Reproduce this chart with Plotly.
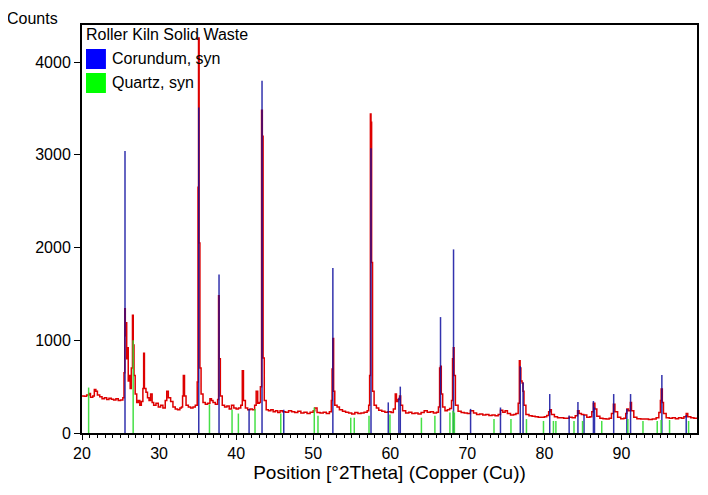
import plotly.graph_objects as go

two_theta = [20.0, 20.3, 20.6, 20.9, 21.1, 21.4, 21.6, 21.8, 22.0, 22.3, 22.6, 22.9, 23.2, 23.5, 23.8,
             24.1, 24.4, 24.7, 25.0, 25.3, 25.45, 25.55, 25.62, 25.7, 25.8, 25.9, 26.0, 26.1, 26.25,
             26.4, 26.55, 26.65, 26.75, 26.9, 27.1, 27.3, 27.5, 27.7, 27.9, 28.0, 28.1, 28.3, 28.5,
             28.7, 28.9, 29.1, 29.3, 29.6, 29.9, 30.2, 30.5, 30.8, 31.0, 31.2, 31.5, 31.8, 32.1, 32.4,
             32.7, 32.9, 33.05, 33.15, 33.3, 33.5, 33.8, 34.1, 34.4, 34.7, 34.95, 35.05, 35.12, 35.2,
             35.3, 35.45, 35.7, 36.0, 36.3, 36.6, 36.8, 37.0, 37.3, 37.6, 37.72, 37.8, 37.95, 38.2,
             38.5, 38.8, 39.1, 39.4, 39.7, 40.0, 40.3, 40.6, 40.8, 40.95, 41.2, 41.5, 41.8, 42.1, 42.4,
             42.6, 42.8, 43.0, 43.15, 43.3, 43.4, 43.5, 43.65, 43.9, 44.2, 44.5, 44.8, 45.1, 45.4,
             45.7, 46.0, 46.4, 46.8, 47.2, 47.6, 48.0, 48.4, 48.8, 49.2, 49.6, 50.0, 50.2, 50.5, 50.9,
             51.3, 51.7, 52.1, 52.35, 52.45, 52.55, 52.65, 52.8, 53.1, 53.4, 53.8, 54.2, 54.6, 55.0,
             55.4, 55.8, 56.2, 56.6, 57.0, 57.2, 57.32, 57.42, 57.5, 57.58, 57.7, 57.9, 58.2, 58.5,
             58.9, 59.3, 59.7, 60.1, 60.4, 60.65, 60.8, 61.0, 61.2, 61.35, 61.6, 62.0, 62.4, 62.8,
             63.2, 63.6, 64.0, 64.4, 64.8, 65.2, 65.6, 66.0, 66.25, 66.4, 66.52, 66.62, 66.8, 67.1,
             67.4, 67.7, 67.95, 68.08, 68.18, 68.28, 68.45, 68.8, 69.2, 69.6, 70.0, 70.4, 70.8, 71.2,
             71.6, 72.0, 72.4, 72.8, 73.2, 73.6, 74.0, 74.3, 74.6, 74.9, 75.2, 75.6, 76.0, 76.3, 76.6,
             76.75, 76.85, 76.95, 77.1, 77.22, 77.35, 77.6, 78.0, 78.4, 78.8, 79.2, 79.6, 80.0, 80.3,
             80.55, 80.7, 80.9, 81.3, 81.7, 82.1, 82.5, 82.9, 83.2, 83.6, 84.0, 84.3, 84.5, 84.8,
             85.1, 85.5, 85.9, 86.15, 86.35, 86.55, 86.8, 87.2, 87.6, 88.0, 88.4, 88.7, 88.95, 89.15,
             89.5, 89.9, 90.3, 90.55, 90.7, 90.9, 91.15, 91.3, 91.6, 92.0, 92.5, 93.0, 93.5, 94.0,
             94.5, 94.85, 95.05, 95.15, 95.3, 95.45, 95.8, 96.2, 96.6, 97.0, 97.4, 97.8, 98.1, 98.4,
             98.6, 99.0, 99.4, 99.8]
counts = [400, 395, 410, 425, 385, 400, 470, 450, 410, 390, 370, 380, 360, 375, 365,
          355, 370, 350, 355, 380, 650, 1340, 1050, 1190, 800, 920, 560, 620, 480,
          700, 1270, 950, 620, 420, 330, 350, 300, 340, 480, 860, 480, 440, 380,
          350, 420, 330, 300, 320, 280, 300, 270, 350, 450, 380, 340, 280, 260, 250,
          270, 280, 400, 620, 400, 300, 280, 270, 280, 300, 550, 2650, 4260, 2050,
          700, 420, 330, 310, 320, 370, 350, 330, 310, 360, 1480, 800, 400, 300,
          280, 290, 260, 300, 270, 260, 270, 300, 670, 350, 270, 250, 260, 250, 300,
          450, 320, 330, 500, 3480, 3200, 810, 350, 250, 240, 250, 230, 240, 220,
          240, 230, 225, 240, 230, 220, 235, 215, 225, 210, 225, 240, 270, 220, 215,
          225, 210, 230, 350, 690, 1020, 450, 300, 280, 250, 235, 225, 215, 205,
          220, 210, 215, 225, 240, 300, 620, 3440, 3350, 1840, 450, 300, 270, 245,
          235, 225, 230, 220, 260, 420, 340, 360, 400, 300, 240, 215, 225, 210,
          215, 205, 220, 240, 225, 230, 215, 225, 280, 700, 720, 420, 280, 240,
          250, 265, 350, 800, 920, 620, 300, 235, 220, 215, 210, 240, 215, 200,
          205, 195, 200, 190, 195, 185, 200, 245, 225, 240, 210, 195, 200, 210, 320,
          780, 700, 560, 540, 450, 300, 200, 185, 180, 175, 170, 170, 175, 190,
          230, 250, 200, 175, 165, 165, 160, 160, 170, 165, 185, 240, 210, 200,
          195, 170, 175, 230, 320, 260, 180, 160, 155, 150, 160, 210, 310, 230,
          170, 155, 160, 210, 260, 240, 330, 240, 170, 155, 150, 150, 145, 150,
          165, 220, 350, 475, 330, 210, 165, 160, 165, 155, 165, 160, 175, 210,
          175, 165, 160, 165]

# reference patterns (stick positions and heights)
corundum_pos = [25.58, 35.15, 37.78, 41.68, 43.36, 46.18, 52.55, 57.50, 59.74, 61.12, 61.30,
                66.52, 68.21, 70.42, 74.30, 76.87, 77.23, 80.69, 83.21, 84.35, 85.14, 86.36,
                86.50, 88.99, 90.70, 91.18, 95.24, 98.40]
corundum_h = [3040, 3510, 1710, 260, 3800, 250, 1780, 3070, 330, 380, 500,
              1250, 1980, 260, 275, 720, 545, 420, 190, 335, 195, 345,
              275, 420, 260, 420, 625, 195]

quartz_pos = [20.86, 26.64, 36.54, 39.47, 40.29, 42.45, 45.79, 50.14, 50.62, 54.87, 55.33,
              57.24, 59.96, 64.04, 65.79, 67.74, 68.14, 68.32, 73.46, 75.66, 77.67, 79.88,
              81.17, 81.49, 83.84, 84.95, 87.44, 90.83, 92.79, 94.64, 95.14, 96.24, 98.71]
quartz_h = [490, 1000, 310, 250, 210, 260, 210, 275, 185, 165, 165,
            185, 200, 165, 185, 220, 240, 220, 150, 150, 150, 130,
            130, 130, 130, 130, 130, 150, 130, 130, 140, 140, 130]

x_ticks = [20, 30, 40, 50, 60, 70, 80, 90]
y_ticks = [0, 1000, 2000, 3000, 4000]

legend_title = 'Roller Kiln Solid Waste'
legend_names = ['Corundum, syn', 'Quartz, syn']
legend_colors = ['#0000ff', '#00ff00']

FONT = "Liberation Sans, Arial, sans-serif"


def sticks(pos, h):
    xs, ys = [], []
    for p, v in zip(pos, h):
        xs += [p, p, None]
        ys += [0, v, None]
    return xs, ys


fig = go.Figure()

fig.add_trace(go.Scatter(x=two_theta, y=counts, mode='lines', showlegend=False,
                         line=dict(color='#dd0000', width=1.5, shape='hv')))

cx, cy = sticks(corundum_pos, corundum_h)
fig.add_trace(go.Scatter(x=cx, y=cy, mode='lines', showlegend=False, opacity=0.85,
                         line=dict(color='#1010a0', width=1.5)))
qx, qy = sticks(quartz_pos, quartz_h)
fig.add_trace(go.Scatter(x=qx, y=qy, mode='lines', showlegend=False, opacity=0.9,
                         line=dict(color='#33dd33', width=1.5)))

# hand drawn legend box in the top-left corner of the plot
shapes = []
annotations = [
    dict(text=legend_title, xref='paper', yref='paper', x=0.003, y=0.9755,
         xanchor='left', yanchor='middle', showarrow=False, font=dict(size=16)),
    dict(text='Counts', xref='paper', yref='paper', x=-0.036, y=1.0417,
         xanchor='right', yanchor='top', showarrow=False, font=dict(size=16)),
]
for i, (name, col) in enumerate(zip(legend_names, legend_colors)):
    y1 = 0.9412 - i * 0.0588
    shapes.append(dict(type='rect', xref='paper', yref='paper', x0=0.0065, x1=0.0389,
                       y0=y1 - 0.049, y1=y1, fillcolor=col, line=dict(width=0)))
    annotations.append(dict(text=name, xref='paper', yref='paper', x=0.045, y=y1 - 0.0245,
                            xanchor='left', yanchor='middle', showarrow=False,
                            font=dict(size=16)))

fig.update_layout(
    width=700, height=487,
    margin=dict(l=74, r=9, t=17, b=62),
    paper_bgcolor='white', plot_bgcolor='white',
    font=dict(family=FONT, size=16, color='black'),
    showlegend=False,
    shapes=shapes,
    annotations=annotations,
)

fig.update_xaxes(range=[20, 99.8], tickvals=x_ticks, ticks='outside', ticklen=5,
                 tickwidth=1, tickcolor='black', showgrid=False, zeroline=False,
                 showline=True, linewidth=2, linecolor='black', mirror=True,
                 minor=dict(dtick=1, ticks='outside', ticklen=3, tickcolor='black', tickwidth=1),
                 title=dict(text='Position [°2Theta] (Copper (Cu))', standoff=0))
fig.update_yaxes(range=[0, 4400], tickvals=y_ticks, ticks='outside', ticklen=6,
                 tickwidth=1, tickcolor='black', showgrid=False, zeroline=False,
                 showline=True, linewidth=2, linecolor='black', mirror=True)

fig.write_html("out.html")
